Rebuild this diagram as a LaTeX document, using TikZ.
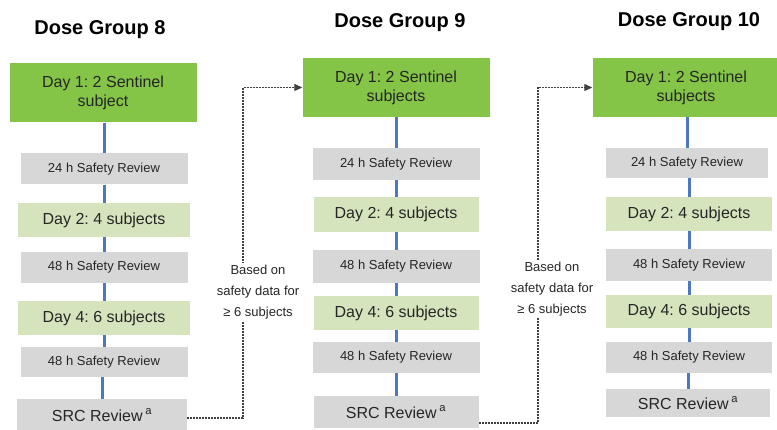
\documentclass[tikz,border=0pt]{standalone}
\usepackage{fontspec}
\setmainfont{Liberation Sans}
\usetikzlibrary{arrows.meta,calc}
\frenchspacing

\definecolor{sentinel}{HTML}{84C447}
\definecolor{cohort}{HTML}{D6E4BD}
\definecolor{review}{HTML}{D7D7D7}
\definecolor{spine}{HTML}{4A78C2}
\definecolor{ink}{HTML}{262626}
\definecolor{dashink}{HTML}{404040}

\tikzset{
  box/.style={draw=none, align=center, text=ink, inner sep=0pt},
  sentbox/.style={box, fill=sentinel, minimum width=187pt, minimum height=59pt,
    font=\fontsize{16}{19}\selectfont},
  daybox/.style={box, fill=cohort, minimum width=172pt, minimum height=34pt,
    font=\fontsize{16}{19}\selectfont},
  revbox/.style={box, fill=review, minimum width=167pt, minimum height=31pt,
    font=\fontsize{13}{15}\selectfont},
  srcbox/.style={box, fill=review, minimum width=170pt, minimum height=32pt,
    font=\fontsize{16}{19}\selectfont},
  grouptitle/.style={font=\bfseries\fontsize{20}{24}\selectfont, text=black},
  link/.style={draw=spine, line width=3pt},
  handoff/.style={draw=dashink, line width=1.2pt, dash pattern=on 2pt off 1pt},
  handtip/.style={-{Triangle[length=8pt,width=7pt]}},
  note/.style={align=center, text=ink, fill=white, inner sep=2pt,
    font=\fontsize{13}{21}\selectfont},
}

\begin{document}
\begin{tikzpicture}[x=1pt,y=-1pt]
\useasboundingbox (0,0) rectangle (777,430);
\clip (0,0) rectangle (777,430);

% ---------- Dose Group 8 ----------
\node[grouptitle] (t8) at (100,30) {Dose Group 8};
\node[sentbox] (s8)  at (103,93)    {Day 1: 2 Sentinel\\subject};
\node[revbox]  (r8a) at (104,169)   {24 h Safety Review};
\node[daybox]  (d8a) at (104,220)   {Day 2: 4 subjects};
\node[revbox]  (r8b) at (104,267.5) {48 h Safety Review};
\node[daybox]  (d8b) at (104,318)   {Day 4: 6 subjects};
\node[revbox, minimum height=30pt] (r8c) at (104,362) {48 h Safety Review};
\node[srcbox]  (c8)  at (102,415)   {SRC Review\,\textsuperscript{a}};

% ---------- Dose Group 9 ----------
\node[grouptitle] (t9) at (400,23) {Dose Group 9};
\node[sentbox] (s9)  at (396,87.5)  {Day 1: 2 Sentinel\\subjects};
\node[revbox, minimum height=32pt] (r9a) at (396,164) {24 h Safety Review};
\node[daybox, minimum width=165pt, minimum height=35pt] (d9a) at (396,214.5) {Day 2: 4 subjects};
\node[revbox, minimum height=33pt] (r9b) at (396,266.5) {48 h Safety Review};
\node[daybox, minimum width=165pt] (d9b) at (396,313) {Day 4: 6 subjects};
\node[revbox] (r9c) at (396,357.5) {48 h Safety Review};
\node[srcbox, minimum width=165pt] (c9)  at (396,412) {SRC Review\,\textsuperscript{a}};

% ---------- Dose Group 10 ----------
\node[grouptitle] (t10) at (689,22) {Dose Group 10};
\node[sentbox] (s10)  at (686,87.5) {Day 1: 2 Sentinel\\subjects};
\node[revbox, minimum width=162pt, minimum height=30pt] (r10a) at (687,163) {24 h Safety Review};
\node[daybox, minimum width=166pt] (d10a) at (689,214) {Day 2: 4 subjects};
\node[revbox, minimum width=166pt, minimum height=32pt] (r10b) at (689,265) {48 h Safety Review};
\node[daybox, minimum width=166pt, minimum height=33pt] (d10b) at (689,311.5) {Day 4: 6 subjects};
\node[revbox, minimum width=166pt] (r10c) at (689,357.5) {48 h Safety Review};
\node[srcbox, minimum width=164pt, minimum height=28pt] (c10) at (688,403) {SRC Review\,\textsuperscript{a}};

% ---------- blue spines inside each group ----------
\foreach \a/\b in {s8/r8a, r8a/d8a, d8a/r8b, r8b/d8b, d8b/r8c, r8c/c8,
                   s9/r9a, r9a/d9a, d9a/r9b, r9b/d9b, d9b/r9c, r9c/c9,
                   s10/r10a, r10a/d10a, d10a/r10b, r10b/d10b, d10b/r10c, r10c/c10}
  \draw[link] (\a.south -| \b.north) -- (\b.north);

% ---------- escalation hand-offs between groups ----------
\coordinate (k1) at (243,418);
\coordinate (k2) at (538,423);
\draw[handoff, handtip] (c8.east |- k1) -- (k1) |- (s9.west);
\draw[handoff, handtip] (c9.east |- k2) -- (k2) |- (s10.west);

\node[note] (n1) at (258,292) {Based on\\safety data for\\≥ 6 subjects};
\node[note] (n2) at (552,289) {Based on\\safety data for\\≥ 6 subjects};
\end{tikzpicture}
\end{document}
